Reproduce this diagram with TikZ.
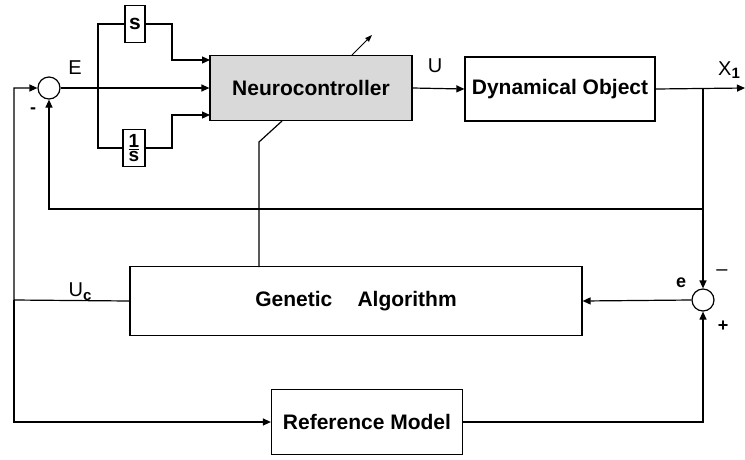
\documentclass[tikz,border=0pt]{standalone}
\usepackage{fontspec}
\setmainfont{Liberation Sans}
\usetikzlibrary{arrows.meta}

\begin{document}
\begin{tikzpicture}[x=1pt,y=-1pt,line width=1.2pt,>={Triangle[length=8pt,width=7pt]},
  blk/.style={draw,inner sep=0pt,font=\bfseries\fontsize{21}{24}\selectfont},
  sumnode/.style={draw,circle,minimum size=22pt,inner sep=0pt},
  lbl/.style={font=\fontsize{20}{22}\selectfont,inner sep=0pt},
  sgn/.style={font=\bfseries\fontsize{18}{20}\selectfont,inner sep=0pt}]
\useasboundingbox (0,0) rectangle (745,459);
% blocks
\node[blk,fill=black!15,minimum width=202pt,minimum height=65pt] (nc) at (311,88) {Neurocontroller};
\node[blk,minimum width=190pt,minimum height=64pt] (dyn) at (560,89) {Dynamical Object};
\node[blk,minimum width=452pt,minimum height=69pt] (ga) at (356,301) {Genetic\hspace{1.2em}Algorithm};
\node[blk,minimum width=191pt,minimum height=65pt] (rm) at (367,422) {Reference Model};
\node[blk,minimum width=20pt,minimum height=37pt] (sbox) at (135,24) {s};
\node[blk,minimum width=22pt,minimum height=37pt,font=\bfseries\fontsize{19}{20}\selectfont] (ibox) at (134,148)
  {$\textstyle{\hbox{1}\above1.3pt\hbox{s}}$};
\node[sumnode] (sum1) at (49,88) {};
\node[sumnode] (sum2) at (703,300) {};
% points
\coordinate (br) at (98,88);
\coordinate (sr) at (172,24);
\coordinate (ir) at (172,148);
\coordinate (nc in1) at (210,60);
\coordinate (nc in3) at (210,115);
\coordinate (uc) at (14,300);
\coordinate (x1) at (703,88);
\coordinate (out) at (745,88);
\coordinate (fb) at (703,209);
\coordinate (nc low) at (282,121);
\coordinate (ga link) at (259,142);
\coordinate (ga top) at (259,267);
\coordinate (w1) at (352,55);
\coordinate (w2) at (372,35);
% connectors
\draw[->] (sum1.east) -- (nc.west);
\draw (br) |- (sbox.west);
\draw (br) |- (ibox.west);
\draw[->] (sbox.east) -- (sr) |- (nc in1);
\draw[->] (ibox.east) -- (ir) |- (nc in3);
\draw[->] (nc.east) -- (dyn.west);
\draw[->] (dyn.east) -- (out);
\draw[->] (x1) -- (sum2.north);
\draw[->] (fb) -| (sum1.south);
\draw[->] (sum2.west) -- (ga.east);
\draw[->] (rm.east) -| (sum2.south);
\draw[->] (ga.west) -- (uc) |- (sum1.west);
\draw[->] (uc) |- (rm.west);
\draw (nc low) -- (ga link) -- (ga top);
\draw[->,line width=0.8pt,>={Triangle[length=7pt,width=5pt]}] (w1) -- (w2);
% labels
\node[lbl] (lE) at (75,68) {E};
\node[lbl] (lU) at (435,66) {U};
\node[lbl] (lX) at (729,70) {X\raisebox{-3pt}{\bfseries\fontsize{15}{16}\selectfont 1}};
\node[lbl] (lUc) at (80,292) {U\raisebox{-4pt}{\bfseries\fontsize{15}{16}\selectfont c}};
\node[sgn] (m1) at (33,111) {-};
\node[sgn] (e2) at (681,283) {e};
\node[lbl] (m2) at (722,273) {--};
\node[sgn] (p2) at (723,326) {+};
\end{tikzpicture}
\end{document}
